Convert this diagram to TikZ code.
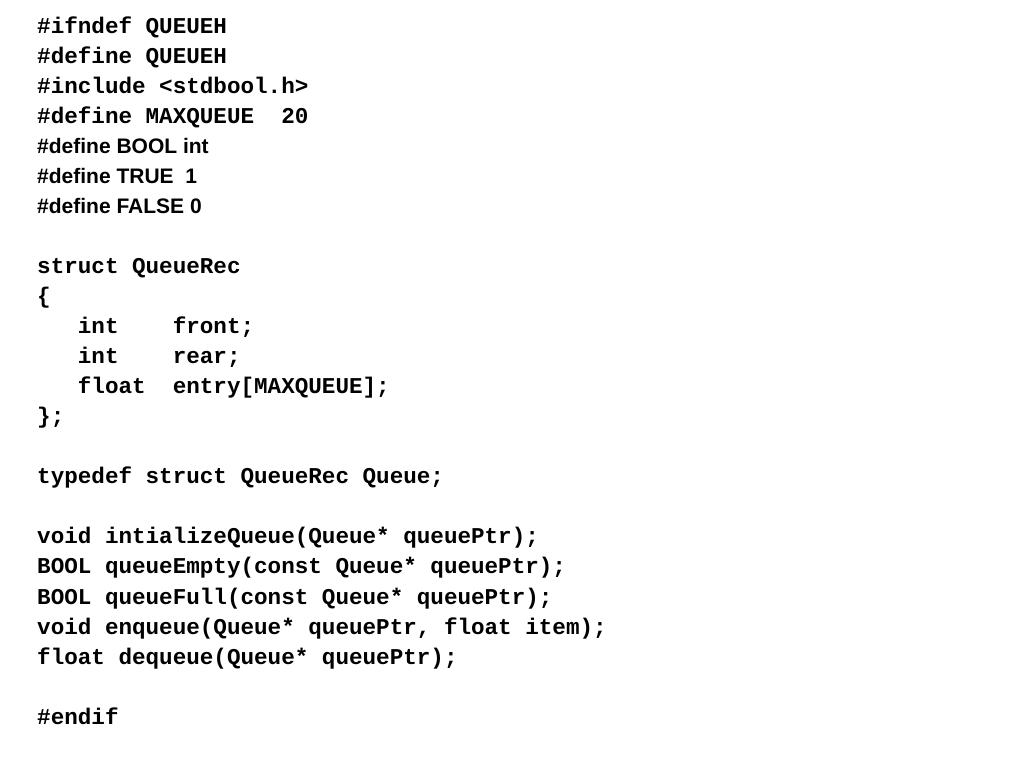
\documentclass[tikz,border=0pt]{standalone}
\usepackage{fontspec}
\setmonofont{Liberation Mono}
\setsansfont{Liberation Sans}
\begin{document}
\begin{tikzpicture}[x=1pt,y=1pt,
  code/.style={anchor=base west,inner sep=0pt,font=\fontsize{22.6}{26}\ttfamily\bfseries},
  sans/.style={anchor=base west,inner sep=0pt,font=\fontsize{21}{26}\sffamily\bfseries}]
\useasboundingbox[fill=white] (0,0) rectangle (1024,768);
\def\L#1{768-34-30*#1}
\node[code] (l0) at (37,{\L0}) {\#ifndef QUEUEH};
\node[code] (l1) at (37,{\L1}) {\#define QUEUEH};
\node[code] (l2) at (37,{\L2}) {\#include <stdbool.h>};
\node[code] (l3) at (37,{\L3}) {\#define MAXQUEUE~~20};
\node[sans] (l4) at (37,{\L4}) {\#define BOOL int};
\node[sans] (l5) at (37,{\L5}) {\#define TRUE~ 1};
\node[sans] (l6) at (37,{\L6}) {\#define FALSE 0};
\node[code] (l8) at (37,{\L8}) {struct QueueRec};
\node[code] (l9) at (37,{\L9}) {\{};
\node[code] (l10) at (37,{\L{10}}) {~~~int~~~~front;};
\node[code] (l11) at (37,{\L{11}}) {~~~int~~~~rear;};
\node[code] (l12) at (37,{\L{12}}) {~~~float~~entry[MAXQUEUE];};
\node[code] (l13) at (37,{\L{13}}) {\};};
\node[code] (l15) at (37,{\L{15}}) {typedef struct QueueRec Queue;};
\node[code] (l17) at (37,{\L{17}}) {void intializeQueue(Queue* queuePtr);};
\node[code] (l18) at (37,{\L{18}}) {BOOL queueEmpty(const Queue* queuePtr);};
\node[code] (l19) at (37,{\L{19}}) {BOOL queueFull(const Queue* queuePtr);};
\node[code] (l20) at (37,{\L{20}}) {void enqueue(Queue* queuePtr, float item);};
\node[code] (l21) at (37,{\L{21}}) {float dequeue(Queue* queuePtr);};
\node[code] (l23) at (37,{\L{23}}) {\#endif};
\end{tikzpicture}
\end{document}
